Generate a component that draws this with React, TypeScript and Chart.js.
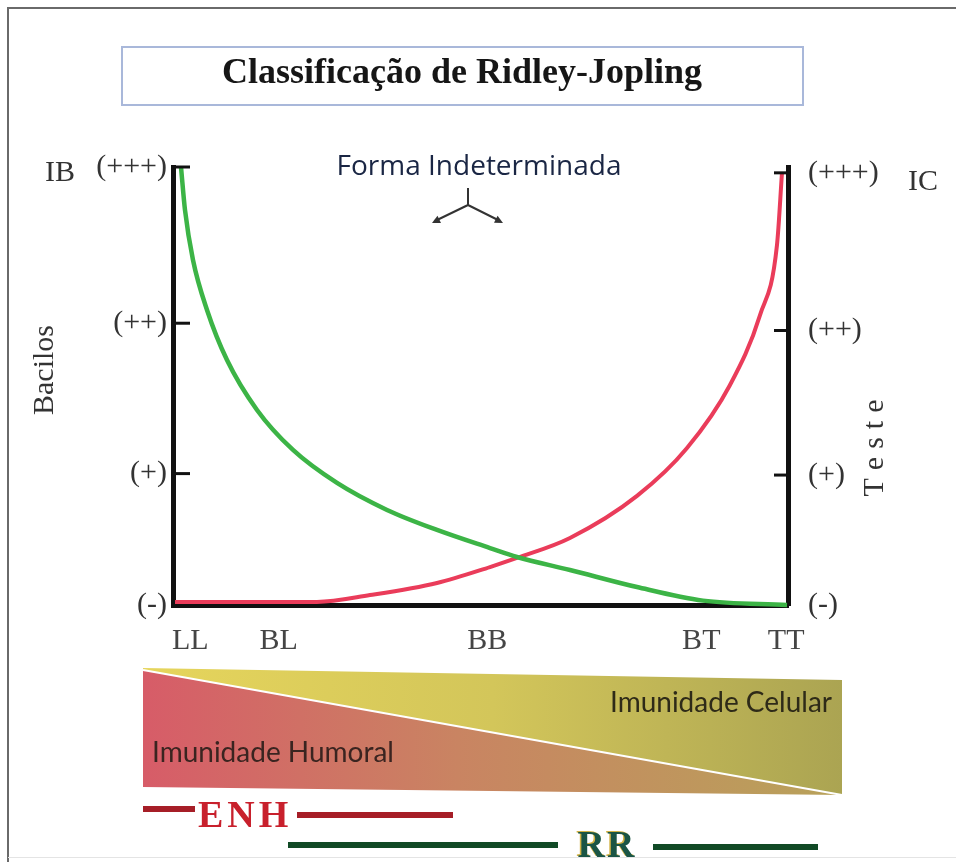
import React, { useEffect, useRef } from "react";
import { Chart, registerables } from "chart.js";

Chart.register(...registerables);

// ---------- data ----------
const titleText = "Classificação de Ridley-Jopling";
const subtitleText = "Forma Indeterminada";
const leftAxisTitle = "Bacilos";
const rightAxisTitle = "Teste";
const leftTopTag = "IB";
const rightTopTag = "IC";
const humoralText = "Imunidade Humoral";
const celularText = "Imunidade Celular";
const enhText = "ENH";
const rrText = "RR";

const categoryLabels = ["LL", "BL", "BB", "BT", "TT"];
const categoryPositions = [2.8, 17.2, 51.1, 85.9, 99.7];

const leftTickLabels = ["(-)", "(+)", "(++)", "(+++)"];
const leftTickValues = [0, 0.9, 1.93, 3];
const rightTickLabels = ["(-)", "(+)", "(++)", "(+++)"];
const rightTickValues = [0, 0.89, 1.88, 2.96];

// Bacilos (green) curve
const bacilosX = [1.3, 1.95, 3.25, 5.53, 8.78, 13.66, 19.51, 26.67, 34.8, 42.93, 51.54, 55.93, 64.55, 75.45, 86.18, 99.84];
const bacilosY = [3.0, 2.705, 2.363, 2.021, 1.678, 1.336, 1.062, 0.836, 0.651, 0.514, 0.39, 0.329, 0.24, 0.123, 0.03, 0];

// Teste (red) curve
const testeX = [0.33, 23.41, 32.03, 42.93, 51.54, 55.93, 64.55, 75.45, 83.58, 90.57, 95.45, 98.21, 99.02];
const testeY = [0.021, 0.021, 0.068, 0.151, 0.26, 0.322, 0.459, 0.747, 1.075, 1.507, 1.986, 2.466, 2.959];

const SERIF = '"Liberation Serif", "Times New Roman", serif';

function drawArrowHead(ctx: CanvasRenderingContext2D, x1: number, y1: number, x2: number, y2: number) {
  const ang = Math.atan2(y2 - y1, x2 - x1);
  const len = 9;
  ctx.beginPath();
  ctx.moveTo(x2, y2);
  ctx.lineTo(x2 - len * Math.cos(ang - 0.45), y2 - len * Math.sin(ang - 0.45));
  ctx.lineTo(x2 - len * Math.cos(ang + 0.45), y2 - len * Math.sin(ang + 0.45));
  ctx.closePath();
  ctx.fill();
}

const decorPlugin = {
  id: "decor",
  beforeDraw(chart: any) {
    const ctx: CanvasRenderingContext2D = chart.ctx;
    ctx.save();
    ctx.fillStyle = "#ffffff";
    ctx.fillRect(0, 0, chart.width, chart.height);

    // outer frame
    ctx.strokeStyle = "#6a6a6a";
    ctx.lineWidth = 2;
    ctx.beginPath();
    ctx.moveTo(8, 862);
    ctx.lineTo(8, 8);
    ctx.lineTo(956, 8);
    ctx.stroke();
    ctx.strokeStyle = "#e4e4e4";
    ctx.lineWidth = 1;
    ctx.beginPath();
    ctx.moveTo(8, 857.5);
    ctx.lineTo(956, 857.5);
    ctx.stroke();

    // title box
    ctx.strokeStyle = "#a9b8da";
    ctx.lineWidth = 2;
    ctx.strokeRect(122, 47, 681, 58);
    ctx.fillStyle = "#161616";
    ctx.font = `bold 36px ${SERIF}`;
    ctx.textAlign = "center";
    ctx.textBaseline = "alphabetic";
    ctx.fillText(titleText, 462, 83);

    // immunity band
    const x0 = 143, x1 = 842;
    const yellow = ctx.createLinearGradient(x0, 0, x1, 0);
    yellow.addColorStop(0, "#e6d55c");
    yellow.addColorStop(0.5, "#d3c65a");
    yellow.addColorStop(1, "#aba452");
    ctx.fillStyle = yellow;
    ctx.beginPath();
    ctx.moveTo(x0, 668);
    ctx.lineTo(x1, 680);
    ctx.lineTo(x1, 795);
    ctx.lineTo(x0, 670);
    ctx.closePath();
    ctx.fill();

    const red = ctx.createLinearGradient(x0, 0, x1, 0);
    red.addColorStop(0, "#d75c68");
    red.addColorStop(0.45, "#c98462");
    red.addColorStop(1, "#b8a25a");
    ctx.fillStyle = red;
    ctx.beginPath();
    ctx.moveTo(x0, 670);
    ctx.lineTo(x1, 795);
    ctx.lineTo(x0, 787);
    ctx.closePath();
    ctx.fill();

    ctx.strokeStyle = "#ffffff";
    ctx.lineWidth = 2;
    ctx.beginPath();
    ctx.moveTo(x0, 670);
    ctx.lineTo(x1, 795);
    ctx.stroke();

    ctx.font = '28px Lato, "Open Sans", sans-serif';
    ctx.textAlign = "left";
    ctx.fillStyle = "#3a2420";
    ctx.fillText(humoralText, 152, 762);
    ctx.fillStyle = "#2e2a18";
    ctx.fillText(celularText, 610, 712);
    ctx.restore();
  },
  afterDatasetsDraw(chart: any) {
    const ctx: CanvasRenderingContext2D = chart.ctx;
    const ys = chart.scales.y;
    const ys2 = chart.scales.y2;
    const area = chart.chartArea;
    ctx.save();
    ctx.strokeStyle = "#111111";
    ctx.lineWidth = 3;
    ys.ticks.forEach((t: any) => {
      if (t.value === 0) return;
      const py = ys.getPixelForValue(t.value);
      ctx.beginPath();
      ctx.moveTo(area.left, py);
      ctx.lineTo(area.left + 17, py);
      ctx.stroke();
    });
    ys2.ticks.forEach((t: any) => {
      if (t.value === 0) return;
      const py = ys2.getPixelForValue(t.value);
      ctx.beginPath();
      ctx.moveTo(area.right, py);
      ctx.lineTo(area.right - 14, py);
      ctx.stroke();
    });
    ctx.restore();
  },
  afterDraw(chart: any) {
    const ctx: CanvasRenderingContext2D = chart.ctx;
    ctx.save();

    // axis tags and titles
    ctx.fillStyle = "#333333";
    ctx.font = `30px ${SERIF}`;
    ctx.textBaseline = "middle";
    ctx.textAlign = "left";
    ctx.fillText(leftTopTag, 45, 173);
    ctx.fillText(rightTopTag, 908, 182);

    ctx.save();
    ctx.translate(45, 370);
    ctx.rotate(-Math.PI / 2);
    ctx.textAlign = "center";
    ctx.fillText(leftAxisTitle, 0, 0);
    ctx.restore();

    ctx.save();
    ctx.translate(875, 448);
    ctx.rotate(-Math.PI / 2);
    ctx.textAlign = "left";
    const spacing = 8;
    const widths = rightAxisTitle.split("").map((c) => ctx.measureText(c).width);
    const total = widths.reduce((a, b) => a + b, 0) + spacing * (widths.length - 1);
    let cx = -total / 2;
    rightAxisTitle.split("").forEach((c, i) => {
      ctx.fillText(c, cx, 0);
      cx += widths[i] + spacing;
    });
    ctx.restore();

    // Forma Indeterminada + arrow
    ctx.font = '28px "Open Sans", sans-serif';
    ctx.textAlign = "center";
    ctx.textBaseline = "alphabetic";
    ctx.fillStyle = "#1a2644";
    ctx.fillText(subtitleText, 479, 175);

    ctx.strokeStyle = "#333333";
    ctx.fillStyle = "#333333";
    ctx.lineWidth = 2;
    ctx.beginPath();
    ctx.moveTo(468, 188);
    ctx.lineTo(468, 205);
    ctx.lineTo(435, 221);
    ctx.moveTo(468, 205);
    ctx.lineTo(500, 221);
    ctx.stroke();
    drawArrowHead(ctx, 468, 205, 432, 223);
    drawArrowHead(ctx, 468, 205, 503, 223);

    // ENH
    ctx.strokeStyle = "#a61e27";
    ctx.lineWidth = 6;
    ctx.beginPath();
    ctx.moveTo(143, 809);
    ctx.lineTo(195, 809);
    ctx.moveTo(297, 815);
    ctx.lineTo(453, 815);
    ctx.stroke();
    ctx.font = `bold 38px ${SERIF}`;
    ctx.textAlign = "left";
    (ctx as any).letterSpacing = "4px";
    ctx.fillStyle = "#c8202c";
    ctx.fillText(enhText, 198, 827);

    // RR
    ctx.strokeStyle = "#114a26";
    ctx.beginPath();
    ctx.moveTo(288, 845);
    ctx.lineTo(558, 845);
    ctx.moveTo(653, 847);
    ctx.lineTo(818, 847);
    ctx.stroke();
    (ctx as any).letterSpacing = "2px";
    ctx.fillStyle = "#d2b244";
    ctx.fillText(rrText, 576, 856);
    ctx.fillStyle = "#1a5545";
    ctx.fillText(rrText, 577.5, 857);
    (ctx as any).letterSpacing = "0px";

    ctx.restore();
  },
};

export default function App() {
  const ref = useRef<HTMLCanvasElement | null>(null);

  useEffect(() => {
    if (!ref.current) return;
    const chart = new Chart(ref.current, {
      type: "line",
      data: {
        datasets: [
          {
            label: "Bacilos",
            data: bacilosX.map((x, i) => ({ x, y: bacilosY[i] })),
            borderColor: "#3cb446",
            borderWidth: 4.5,
            pointRadius: 0,
            cubicInterpolationMode: "monotone",
            yAxisID: "y",
            clip: false as any,
          },
          {
            label: "Teste",
            data: testeX.map((x, i) => ({ x, y: testeY[i] })),
            borderColor: "#ea3c5a",
            borderWidth: 4,
            pointRadius: 0,
            cubicInterpolationMode: "monotone",
            yAxisID: "y2",
            clip: false as any,
          },
        ],
      },
      options: {
        responsive: false,
        animation: false,
        devicePixelRatio: 1,
        layout: { padding: { top: 167, left: 0, right: 0, bottom: 0 } },
        plugins: {
          legend: { display: false },
          tooltip: { enabled: false },
          title: { display: false },
        },
        scales: {
          x: {
            type: "linear",
            position: "bottom",
            min: 0,
            max: 100,
            grid: { display: false, drawTicks: false },
            border: { display: true, width: 5, color: "#111111" },
            afterBuildTicks: (axis: any) => {
              axis.ticks = categoryPositions.map((v) => ({ value: v }));
            },
            afterFit: (axis: any) => {
              axis.height = 258;
            },
            ticks: {
              autoSkip: false,
              maxRotation: 0,
              minRotation: 0,
              padding: 18,
              color: "#454545",
              font: { family: SERIF, size: 30 },
              callback: (_v: any, i: number) => categoryLabels[i],
            },
          },
          y: {
            type: "linear",
            position: "left",
            min: 0,
            max: 3,
            grid: { display: false, drawTicks: false },
            border: { display: true, width: 5, color: "#111111" },
            afterBuildTicks: (axis: any) => {
              axis.ticks = leftTickValues.map((v) => ({ value: v }));
            },
            afterFit: (axis: any) => {
              axis.width = 173;
            },
            ticks: {
              autoSkip: false,
              padding: 6,
              color: "#333333",
              font: { family: SERIF, size: 30 },
              callback: (_v: any, i: number) => leftTickLabels[i],
            },
          },
          y2: {
            type: "linear",
            position: "right",
            min: 0,
            max: 3,
            grid: { display: false, drawTicks: false },
            border: { display: true, width: 5, color: "#111111" },
            afterBuildTicks: (axis: any) => {
              axis.ticks = rightTickValues.map((v) => ({ value: v }));
            },
            afterFit: (axis: any) => {
              axis.width = 168;
            },
            ticks: {
              autoSkip: false,
              padding: 20,
              color: "#333333",
              font: { family: SERIF, size: 30 },
              callback: (_v: any, i: number) => rightTickLabels[i],
            },
          },
        },
      },
      plugins: [decorPlugin],
    } as any);
    return () => chart.destroy();
  }, []);

  return (
    <canvas
      ref={ref}
      width={956}
      height={863}
      style={{ position: "fixed", left: 0, top: 0, width: 956, height: 863 }}
    />
  );
}
